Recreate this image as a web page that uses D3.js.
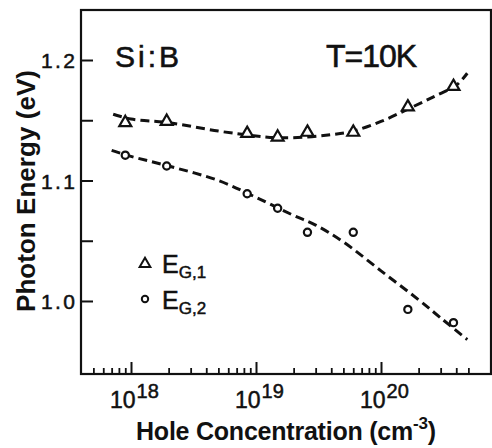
<!DOCTYPE html>
<html>
<head>
<meta charset="utf-8">
<script src="https://cdn.jsdelivr.net/npm/d3@7"></script>
<style>
  html, body { margin: 0; padding: 0; background: #fff; }
  svg text { font-family: "Liberation Sans", Arial, sans-serif; fill: #111; }
</style>
</head>
<body>
<svg id="chart" width="492" height="448"></svg>
<script>
// Hole concentration (cm^-3) of the measured samples
const concentration = [9e17, 1.93e18, 8.5e18, 1.49e19, 2.58e19, 6.0e19, 1.64e20, 3.8e20];
// Band-gap energies (eV)
const eg1 = [1.148, 1.149, 1.139, 1.136, 1.140, 1.140, 1.161, 1.178];
const eg2 = [1.121, 1.112, 1.089, 1.077, 1.057, 1.057, 0.993, 0.982];

// Guide-to-the-eye curves through each set
const eg1CurveConc = [7.2e17, 1e18, 2e18, 5e18, 1e19, 1.5e19, 2.5e19, 4e19, 6e19, 1e20, 1.7e20, 2.7e20, 4e20, 4.9e20];
const eg1CurveE    = [1.155, 1.151, 1.148, 1.141, 1.137, 1.1355, 1.136, 1.138, 1.141, 1.149, 1.160, 1.170, 1.179, 1.189];
const eg2CurveConc = [7e17, 1e18, 2e18, 5e18, 1e19, 2e19, 3e19, 5e19, 1e20, 2e20, 3e20, 4.9e20];
const eg2CurveE    = [1.125, 1.120, 1.112, 1.100, 1.086, 1.071, 1.063, 1.049, 1.025, 1.001, 0.986, 0.968];

const yMajorTicks = [1.0, 1.1, 1.2];
const yMinorTicks = [1.05, 1.15];
const xMajorTicks = [1e18, 1e19, 1e20];
const xExponents = ["18", "19", "20"];
const xMinorTicks = [5e17, 6e17, 7e17, 8e17, 9e17,
  2e18, 3e18, 4e18, 5e18, 6e18, 7e18, 8e18, 9e18,
  2e19, 3e19, 4e19, 5e19, 6e19, 7e19, 8e19, 9e19,
  2e20, 3e20, 4e20, 5e20];

const svg = d3.select("#chart");
const ink = "#111";
const L = 81, R = 491, T = 10, B = 374;

const x = d3.scaleLog().domain([Math.pow(10, 17.6), Math.pow(10, 20.88)]).range([L, R]);
const y = d3.scaleLinear().domain([0.9394, 1.2415]).range([B, T]);

// frame
svg.append("rect").attr("x", L).attr("y", T).attr("width", R - L).attr("height", B - T)
  .attr("fill", "none").attr("stroke", ink).attr("stroke-width", 2.2);

// left axis: inward ticks
const yAxis = d3.axisLeft(y).tickValues(yMajorTicks).tickSize(-12).tickPadding(6)
  .tickFormat(d3.format(".1f"));
const gy = svg.append("g").attr("transform", `translate(${L},0)`).call(yAxis);
gy.select(".domain").remove();
gy.selectAll(".tick line").attr("stroke", ink).attr("stroke-width", 2);
gy.selectAll(".tick text").attr("font-size", 21).attr("dy", "0.36em")
  .attr("stroke", ink).attr("stroke-width", 0.5).attr("textLength", 34);

const gyMinor = d3.axisLeft(y).tickValues(yMinorTicks).tickSize(-12).tickFormat("");
const gym = svg.append("g").attr("transform", `translate(${L},0)`).call(gyMinor);
gym.select(".domain").remove();
gym.selectAll(".tick line").attr("stroke", ink).attr("stroke-width", 2);

// bottom axis: inward ticks
const gxMinor = svg.append("g").attr("transform", `translate(0,${B})`)
  .call(d3.axisBottom(x).tickValues(xMinorTicks).tickSize(-6).tickFormat(""));
gxMinor.select(".domain").remove();
gxMinor.selectAll(".tick line").attr("stroke", ink).attr("stroke-width", 1.8);

const gx = svg.append("g").attr("transform", `translate(0,${B})`)
  .call(d3.axisBottom(x).tickValues(xMajorTicks).tickSize(-12).tickFormat(""));
gx.select(".domain").remove();
gx.selectAll(".tick line").attr("stroke", ink).attr("stroke-width", 2);

// power-of-ten labels
const lab = svg.append("g");
xMajorTicks.forEach((v, i) => {
  const px = x(v);
  lab.append("text").attr("x", px - 21).attr("y", 408)
    .attr("font-size", 23).attr("stroke", ink).attr("stroke-width", 0.5)
    .html(`10<tspan dx="1" dy="-10" font-size="20">${xExponents[i]}</tspan>`);
});

// axis titles
svg.append("text").attr("x", 136).attr("y", 440).attr("font-size", 25).attr("font-weight", "bold")
  .attr("textLength", 300)
  .html('Hole Concentration (cm<tspan dy="-11" font-size="17">-3</tspan><tspan dy="11">)</tspan>');
svg.append("text").attr("transform", "translate(35,191) rotate(-90)").attr("text-anchor", "middle")
  .attr("font-size", 26).attr("font-weight", "bold").attr("textLength", 242)
  .text("Photon Energy (eV)");

// annotations
svg.append("text").attr("x", 115).attr("y", 67).attr("font-size", 30)
  .attr("stroke", ink).attr("stroke-width", 0.6).attr("textLength", 64).text("Si:B");
svg.append("text").attr("x", 326).attr("y", 67).attr("font-size", 32)
  .attr("stroke", ink).attr("stroke-width", 0.6).attr("textLength", 91).text("T=10K");

// dashed guide curves
const line = d3.line().x(d => x(d[0])).y(d => y(d[1])).curve(d3.curveCatmullRom);
[[eg1CurveConc, eg1CurveE], [eg2CurveConc, eg2CurveE]].forEach(([cx, ce]) => {
  svg.append("path").datum(cx.map((c, i) => [c, ce[i]])).attr("d", line)
    .attr("fill", "none").attr("stroke", ink).attr("stroke-width", 3)
    .attr("stroke-dasharray", "9 5");
});

// data markers
const tri = d3.symbol(d3.symbolTriangle, 62);
svg.append("g").selectAll("path").data(concentration.map((c, i) => [c, eg1[i]])).join("path")
  .attr("d", tri).attr("transform", d => `translate(${x(d[0])},${y(d[1])})`)
  .attr("fill", "#fff").attr("stroke", ink).attr("stroke-width", 2.2);
svg.append("g").selectAll("circle").data(concentration.map((c, i) => [c, eg2[i]])).join("circle")
  .attr("cx", d => x(d[0])).attr("cy", d => y(d[1])).attr("r", 3.6)
  .attr("fill", "#fff").attr("stroke", ink).attr("stroke-width", 2.2);

// legend
const leg = svg.append("g");
leg.append("path").attr("d", d3.symbol(d3.symbolTriangle, 50)()).attr("transform", "translate(145,264)")
  .attr("fill", "#fff").attr("stroke", ink).attr("stroke-width", 2);
leg.append("circle").attr("cx", 145).attr("cy", 299).attr("r", 3.2)
  .attr("fill", "#fff").attr("stroke", ink).attr("stroke-width", 2);
[["G,1", 273], ["G,2", 309]].forEach(([sub, by]) => {
  leg.append("text").attr("x", 162).attr("y", by).attr("font-size", 25)
    .attr("stroke", ink).attr("stroke-width", 0.5)
    .html(`E<tspan dy="5" font-size="17">${sub}</tspan>`);
});
</script>
</body>
</html>
